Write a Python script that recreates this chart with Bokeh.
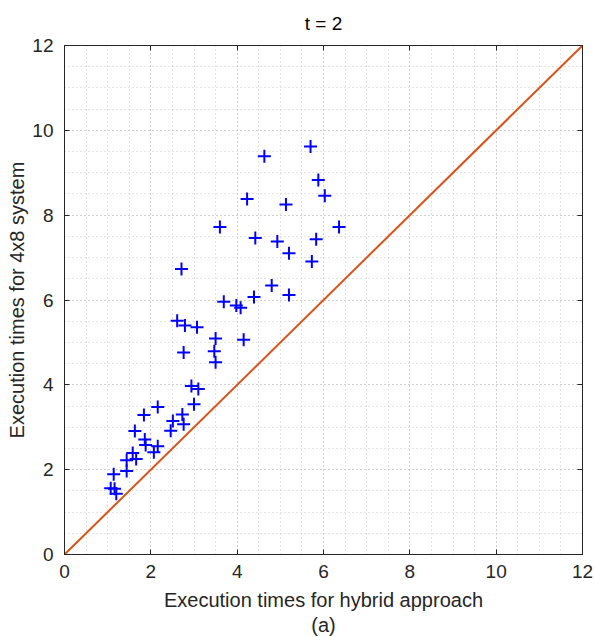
from bokeh.plotting import figure
from bokeh.models import (Range1d, SingleIntervalTicker, LinearAxis, Title, Grid)
from bokeh.embed import file_html
from bokeh.resources import INLINE

# ---- data ----
hybrid_times = [5.70, 4.63, 5.88, 6.03, 4.23, 5.13, 3.60, 6.36, 4.42, 4.93,
                5.83, 5.20, 5.73, 2.71, 4.80, 3.69, 4.39, 5.20, 3.98, 4.08,
                2.61, 2.79, 3.07, 3.50, 4.15, 2.76, 3.47, 3.50, 2.94, 3.10,
                3.00, 2.16, 1.84, 2.73, 2.51, 2.76, 2.46, 1.63, 1.86, 1.88,
                2.16, 2.07, 1.58, 1.66, 1.44, 1.44, 1.14, 1.07, 1.16, 1.20]
system_times = [9.62, 9.39, 8.83, 8.46, 8.38, 8.25, 7.72, 7.72, 7.46, 7.38,
                7.43, 7.10, 6.91, 6.73, 6.34, 5.96, 6.07, 6.12, 5.87, 5.82,
                5.51, 5.40, 5.36, 5.09, 5.06, 4.76, 4.79, 4.53, 3.97, 3.90,
                3.54, 3.48, 3.29, 3.30, 3.15, 3.07, 2.92, 2.91, 2.71, 2.58,
                2.55, 2.41, 2.39, 2.25, 2.22, 1.97, 1.89, 1.56, 1.55, 1.43]
diag_x = [0, 12]
diag_y = [0, 12]
axis_min, axis_max, tick_step = 0, 12, 2

title_text = "t = 2"
x_label = "Execution times for hybrid approach"
y_label = "Execution times for 4x8 system"
caption = "(a)"

FONT = "Liberation Sans"
AX = "#262626"

p = figure(width=595, height=637, output_backend="svg", toolbar_location=None,
           x_range=Range1d(axis_min, axis_max), y_range=Range1d(axis_min, axis_max),
           min_border_left=64, min_border_right=13, min_border_top=45,
           min_border_bottom=83, x_axis_type=None, y_axis_type=None)
p.background_fill_color = "white"
p.border_fill_color = "white"
p.outline_line_color = AX
p.outline_line_width = 1

def make_axis(label=None, show_labels=True, tick_standoff=7, label_standoff=6):
    ax = LinearAxis(ticker=SingleIntervalTicker(interval=tick_step, num_minor_ticks=4))
    ax.axis_line_color = AX
    ax.major_tick_line_color = AX
    ax.major_tick_in = 5
    ax.major_tick_out = 0
    ax.minor_tick_line_color = None
    ax.major_label_text_font = FONT
    ax.major_label_text_font_size = "19px"
    ax.major_label_text_color = AX
    ax.major_label_standoff = tick_standoff
    if label:
        ax.axis_label = label
        ax.axis_label_text_font = FONT
        ax.axis_label_text_font_size = "20px"
        ax.axis_label_text_font_style = "normal"
        ax.axis_label_text_color = AX
        ax.axis_label_standoff = label_standoff
    if not show_labels:
        ax.major_label_overrides = {v: "" for v in range(axis_min, axis_max + 1)}
        ax.major_label_standoff = 0
    return ax

xb = make_axis(x_label, tick_standoff=6, label_standoff=8)
yl = make_axis(y_label, tick_standoff=7, label_standoff=1)
xt = make_axis(show_labels=False)
yr = make_axis(show_labels=False)
p.add_layout(xb, "below")
p.add_layout(yl, "left")
p.add_layout(xt, "above")
p.add_layout(yr, "right")

for dim, ax in ((0, xb), (1, yl)):
    g = Grid(dimension=dim, ticker=ax.ticker)
    g.grid_line_color = "#bdbdbd"
    g.grid_line_dash = "1 3"
    g.grid_line_width = 1
    g.minor_grid_line_color = "#c8c8c8"
    g.minor_grid_line_dash = "1 3"
    g.minor_grid_line_width = 1
    p.add_layout(g, "center")

p.title.text = title_text
p.title.align = "center"
p.title.text_font = FONT
p.title.text_font_size = "19px"
p.title.text_font_style = "normal"
p.title.text_color = "black"
p.title.standoff = 15

cap = Title(text=caption, align="center", text_font=FONT, text_font_size="20px",
            text_font_style="normal", text_color=AX, standoff=-3)
p.add_layout(cap, "below")

p.line(diag_x, diag_y, line_color="#D95319", line_width=2)
p.scatter(hybrid_times, system_times, marker="cross", size=13, line_width=2,
          line_color="#0000FF")

open("out.html", "w").write(file_html(p, INLINE))
